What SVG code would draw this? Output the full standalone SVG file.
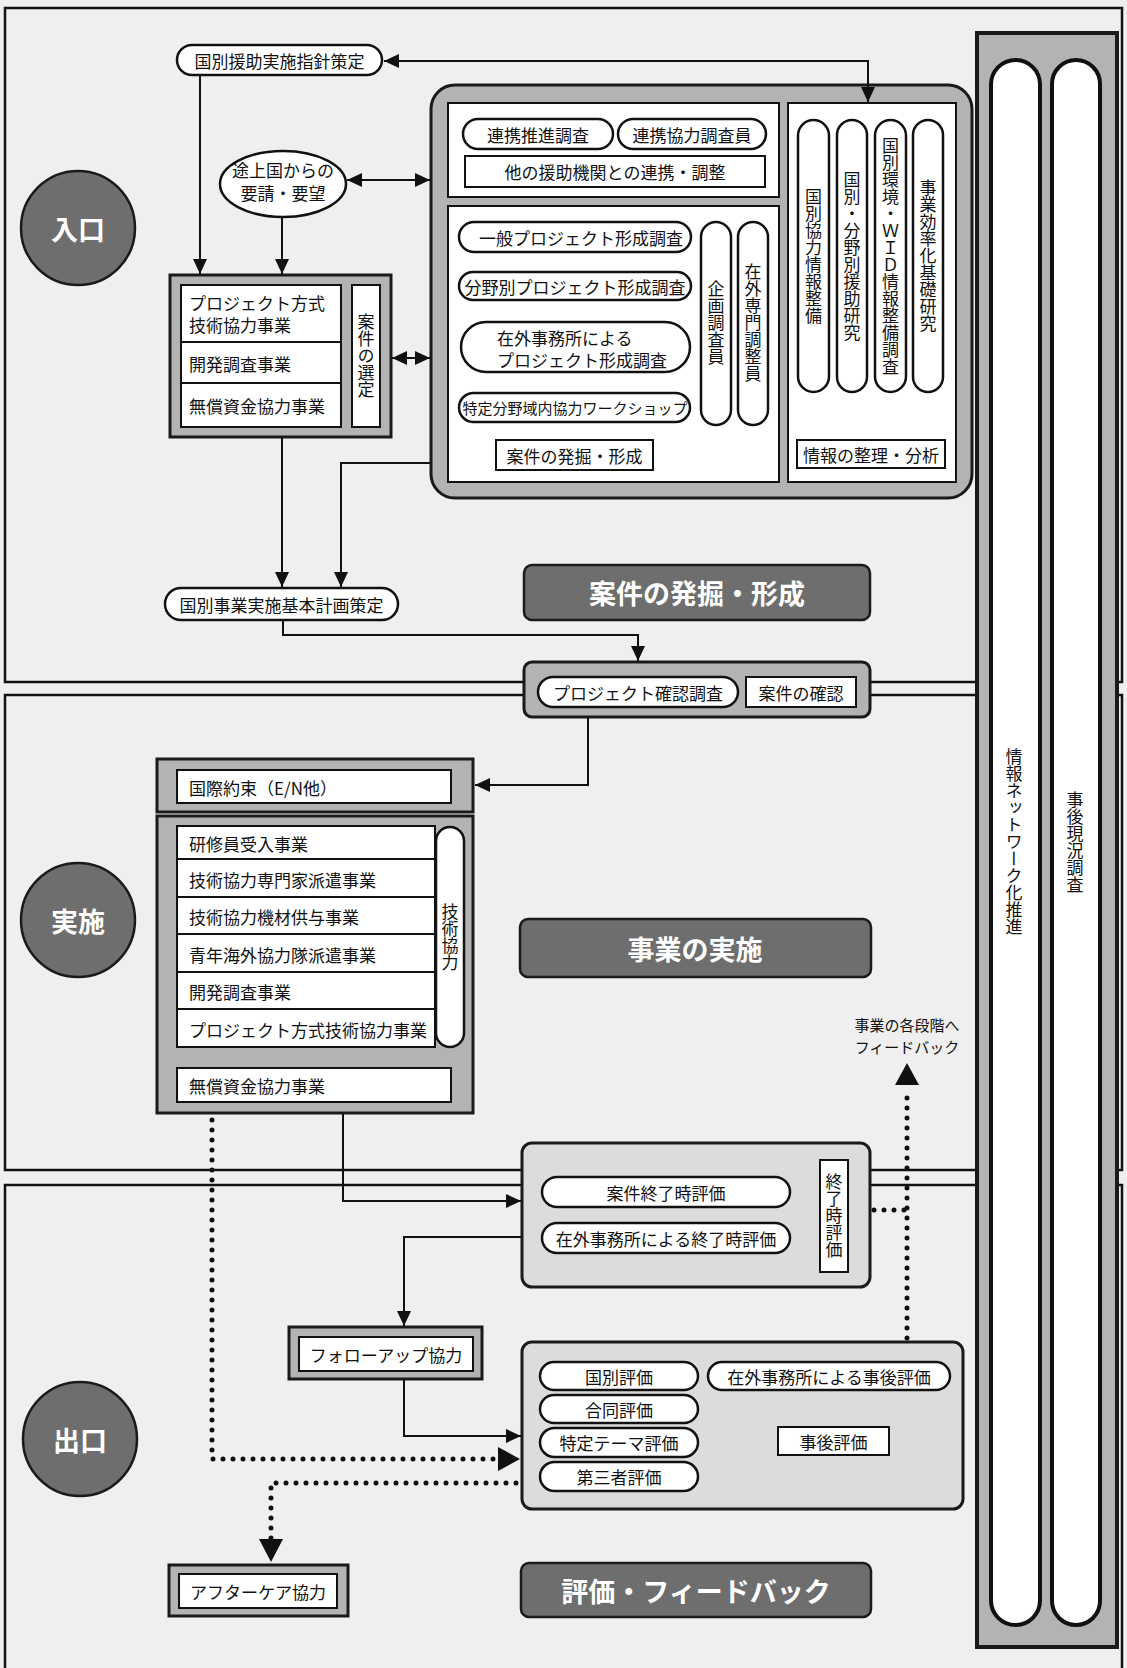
<svg xmlns="http://www.w3.org/2000/svg" width="1127" height="1668" viewBox="0 0 1127 1668">
<defs>
<style>
.t{font-family:"Noto Sans CJK JP","Noto Sans CJK SC",sans-serif;font-size:17px;fill:#111}
.c{text-anchor:middle;dominant-baseline:central}
.l{dominant-baseline:central}
.v{writing-mode:vertical-rl;text-orientation:upright;text-anchor:middle}
.w{fill:#fff;font-weight:700}
.pill{fill:#fff;stroke:#111;stroke-width:2.5}
.box{fill:#fff;stroke:#111;stroke-width:2}
.frame{fill:#b3b3b3;stroke:#1a1a1a;stroke-width:3}
.light{fill:#dcdcdc;stroke:#1a1a1a;stroke-width:3}
.dark{fill:#6e6e6e;stroke:#1a1a1a;stroke-width:2.5}
.sec{fill:none;stroke:#111;stroke-width:2.5}
.ln{fill:none;stroke:#111;stroke-width:2}
.dot{fill:none;stroke:#111;stroke-width:5;stroke-linecap:round;stroke-dasharray:0 10}
</style>
<marker id="ah" markerUnits="userSpaceOnUse" markerWidth="15" markerHeight="14" refX="15" refY="7" orient="auto-start-reverse"><path d="M0,0 L15,7 L0,14 z" fill="#111"/></marker>
</defs>
<rect x="0" y="0" width="1127" height="1668" fill="#efefef"/>
<g id="sections">
<rect class="sec" x="5" y="8" width="1117" height="674"/>
<rect class="sec" x="5" y="695" width="1117" height="475"/>
<rect class="sec" x="5" y="1185" width="1117" height="520"/>
</g>
<g id="circle-iriguchi">
<circle cx="78" cy="228" r="57" class="dark"/>
<text class="t c w" x="78" y="228" style="font-size:27px">入口</text>
</g>
<g id="circle-jisshi">
<circle cx="78" cy="920" r="57" class="dark"/>
<text class="t c w" x="78" y="920" style="font-size:27px">実施</text>
</g>
<g id="circle-deguchi">
<circle cx="80" cy="1439" r="57" class="dark"/>
<text class="t c w" x="80" y="1439" style="font-size:27px">出口</text>
</g>
<g id="n-shishin">
<rect class="pill" x="177" y="45" width="205" height="30" rx="15"/>
<text class="t c" x="279.5" y="60">国別援助実施指針策定</text>
</g>
<g id="n-yousei">
<ellipse class="pill" cx="283" cy="184" rx="63" ry="33"/>
<text class="t c" x="283" y="169">途上国からの</text>
<text class="t c" x="283" y="192">要請・要望</text>
</g>
<g id="n-sentei">
<rect class="frame" x="170" y="275" width="221" height="162"/>
<rect class="box" x="181" y="285" width="160" height="57"/>
<rect class="box" x="181" y="342" width="160" height="41"/>
<rect class="box" x="181" y="383" width="160" height="44"/>
<rect class="box" x="352" y="285" width="28" height="142"/>
<text class="t l" x="189" y="302">プロジェクト方式</text>
<text class="t l" x="189" y="324">技術協力事業</text>
<text class="t l" x="189" y="363">開発調査事業</text>
<text class="t l" x="189" y="405">無償資金協力事業</text>
<text class="t v" x="366" y="356">案件の選定</text>
</g>
<g id="n-hakkutsu">
<rect class="frame" x="431" y="85" width="541" height="413" rx="24"/>
<rect class="box" x="448" y="103" width="331" height="94"/>
<rect class="box" x="448" y="206" width="331" height="276"/>
<rect class="box" x="788" y="103" width="168" height="379"/>
<rect class="pill" x="463" y="119" width="150" height="30" rx="15"/>
<text class="t c" x="538" y="134">連携推進調査</text>
<rect class="pill" x="618" y="119" width="148" height="30" rx="15"/>
<text class="t c" x="692" y="134">連携協力調査員</text>
<rect class="box" x="465" y="156" width="300" height="31"/>
<text class="t c" x="615" y="171.5">他の援助機関との連携・調整</text>
<rect class="pill" x="459" y="222" width="232" height="30" rx="15"/>
<text class="t c" x="581" y="237">一般プロジェクト形成調査</text>
<rect class="pill" x="459" y="272" width="232" height="28" rx="14"/>
<text class="t c" x="575" y="286">分野別プロジェクト形成調査</text>
<rect class="pill" x="461" y="322" width="229" height="50" rx="25"/>
<text class="t l" x="497" y="337">在外事務所による</text>
<text class="t l" x="497" y="359">プロジェクト形成調査</text>
<rect class="pill" x="459" y="393" width="231" height="29" rx="14.5"/>
<text class="t c" x="575" y="407.5" style="font-size:15px">特定分野域内協力ワークショップ</text>
<rect class="box" x="496" y="440" width="157" height="30"/>
<text class="t c" x="574.5" y="455">案件の発掘・形成</text>
<rect class="pill" x="701" y="222" width="30" height="203" rx="15"/>
<text class="t v" x="716" y="323">企画調査員</text>
<rect class="pill" x="738" y="222" width="30" height="203" rx="15"/>
<text class="t v" x="753" y="323">在外専門調整員</text>
<rect class="pill" x="798" y="120" width="31" height="272" rx="15.5"/>
<text class="t v" x="813.5" y="256">国別協力情報整備</text>
<rect class="pill" x="837" y="120" width="30" height="272" rx="15"/>
<text class="t v" x="852" y="256">国別・分野別援助研究</text>
<rect class="pill" x="875" y="120" width="31" height="272" rx="15.5"/>
<text class="t v" x="890.5" y="256">国別環境・ＷＩＤ情報整備調査</text>
<rect class="pill" x="913" y="120" width="30" height="272" rx="15"/>
<text class="t v" x="928" y="256">事業効率化基礎研究</text>
<rect class="box" x="797" y="440" width="148" height="28"/>
<text class="t c" x="871" y="454">情報の整理・分析</text>
</g>
<g id="n-keikaku">
<rect class="pill" x="165" y="588" width="233" height="32" rx="16"/>
<text class="t c" x="281.5" y="604">国別事業実施基本計画策定</text>
</g>
<g id="banner-hakkutsu">
<rect class="dark" x="524" y="565" width="346" height="55" rx="8"/>
<text class="t c w" x="697" y="592.5" style="font-size:27px">案件の発掘・形成</text>
</g>
<g id="n-kakunin">
<rect class="frame" x="524" y="662" width="346" height="55" rx="8"/>
<rect class="pill" x="538" y="677" width="200" height="30" rx="15"/>
<text class="t c" x="638" y="692">プロジェクト確認調査</text>
<rect class="box" x="746" y="677" width="110" height="30"/>
<text class="t c" x="801" y="692">案件の確認</text>
</g>
<g id="n-yakusoku">
<rect class="frame" x="157" y="759" width="316" height="53"/>
<rect class="box" x="177" y="770" width="274" height="33"/>
<text class="t l" x="189" y="787">国際約束（E/N他）</text>
</g>
<g id="n-jisshi">
<rect class="frame" x="157" y="816" width="316" height="297"/>
<rect class="box" x="177" y="826" width="258" height="33"/>
<rect class="box" x="177" y="859" width="258" height="38"/>
<rect class="box" x="177" y="897" width="258" height="37"/>
<rect class="box" x="177" y="934" width="258" height="38"/>
<rect class="box" x="177" y="972" width="258" height="37"/>
<rect class="box" x="177" y="1009" width="258" height="38"/>
<rect class="pill" x="436" y="827" width="28" height="220" rx="14"/>
<text class="t l" x="189" y="843">研修員受入事業</text>
<text class="t l" x="189" y="879">技術協力専門家派遣事業</text>
<text class="t l" x="189" y="916">技術協力機材供与事業</text>
<text class="t l" x="189" y="954">青年海外協力隊派遣事業</text>
<text class="t l" x="189" y="991">開発調査事業</text>
<text class="t l" x="189" y="1029">プロジェクト方式技術協力事業</text>
<text class="t v" x="450" y="937">技術協力</text>
<rect class="box" x="177" y="1068" width="274" height="34"/>
<text class="t l" x="189" y="1085">無償資金協力事業</text>
</g>
<g id="banner-jisshi">
<rect class="dark" x="520" y="919" width="351" height="58" rx="8"/>
<text class="t c w" x="695" y="948" style="font-size:27px">事業の実施</text>
</g>
<g id="label-feedback">
<text class="t c" x="907" y="1024" style="font-size:15px">事業の各段階へ</text>
<text class="t c" x="907" y="1046" style="font-size:15px">フィードバック</text>
</g>
<g id="n-shuryo">
<rect class="light" x="522" y="1143" width="348" height="144" rx="10"/>
<rect class="pill" x="542" y="1177" width="248" height="30" rx="15"/>
<text class="t c" x="666" y="1192">案件終了時評価</text>
<rect class="pill" x="542" y="1223" width="248" height="30" rx="15"/>
<text class="t c" x="666" y="1238">在外事務所による終了時評価</text>
<rect class="box" x="820" y="1160" width="28" height="112"/>
<text class="t v" x="834" y="1216">終了時評価</text>
</g>
<g id="n-followup">
<rect class="frame" x="289" y="1327" width="193" height="52"/>
<rect class="box" x="299" y="1337" width="174" height="34"/>
<text class="t c" x="386" y="1354">フォローアップ協力</text>
</g>
<g id="n-jigo">
<rect class="light" x="522" y="1342" width="441" height="167" rx="10"/>
<rect class="pill" x="540" y="1362" width="158" height="28" rx="14"/>
<text class="t c" x="619" y="1376">国別評価</text>
<rect class="pill" x="540" y="1395" width="158" height="28" rx="14"/>
<text class="t c" x="619" y="1409">合同評価</text>
<rect class="pill" x="540" y="1428" width="158" height="29" rx="14.5"/>
<text class="t c" x="619" y="1442.5">特定テーマ評価</text>
<rect class="pill" x="540" y="1462" width="158" height="29" rx="14.5"/>
<text class="t c" x="619" y="1476.5">第三者評価</text>
<rect class="pill" x="708" y="1362" width="242" height="28" rx="14"/>
<text class="t c" x="829" y="1376">在外事務所による事後評価</text>
<rect class="box" x="778" y="1427" width="111" height="28"/>
<text class="t c" x="833.5" y="1441">事後評価</text>
</g>
<g id="n-aftercare">
<rect class="frame" x="169" y="1565" width="179" height="51"/>
<rect class="box" x="179" y="1574" width="158" height="34"/>
<text class="t c" x="258" y="1591">アフターケア協力</text>
</g>
<g id="banner-hyoka">
<rect class="dark" x="521" y="1563" width="350" height="54" rx="8"/>
<text class="t c w" x="696" y="1590" style="font-size:27px">評価・フィードバック</text>
</g>
<g id="n-column">
<rect class="frame" x="977" y="33" width="140" height="1614" style="stroke-width:4"/>
<rect class="pill" x="991" y="60" width="49" height="1565" rx="24.5" style="stroke-width:4"/>
<rect class="pill" x="1052" y="60" width="48" height="1565" rx="24" style="stroke-width:4"/>
<text class="t v" x="1014" y="842">情報ネットワーク化推進</text>
<text class="t v" x="1075" y="842">事後現況調査</text>
</g>
<g id="connectors">
<path class="ln" d="M384,61 H868 V102" marker-start="url(#ah)" marker-end="url(#ah)"/>
<path class="ln" d="M200,75 V274" marker-end="url(#ah)"/>
<path class="ln" d="M282,217 V274" marker-end="url(#ah)"/>
<path class="ln" d="M347,180 H430" marker-start="url(#ah)" marker-end="url(#ah)"/>
<path class="ln" d="M392,358 H430" marker-start="url(#ah)" marker-end="url(#ah)"/>
<path class="ln" d="M282,438 V587" marker-end="url(#ah)"/>
<path class="ln" d="M430,463 H341 V587" marker-end="url(#ah)"/>
<path class="ln" d="M283,621 V635 H638 V661" marker-end="url(#ah)"/>
<path class="ln" d="M588,718 V785 H475" marker-end="url(#ah)"/>
<path class="ln" d="M343,1114 V1201 H521" marker-end="url(#ah)"/>
<path class="ln" d="M521,1237 H404 V1326" marker-end="url(#ah)"/>
<path class="ln" d="M404,1380 V1436 H521" marker-end="url(#ah)"/>
<path class="dot" d="M212,1120 V1459 H500"/>
<path d="M498,1447 L520,1459 L498,1471 z" fill="#111"/>
<path class="dot" d="M516,1483 H271 V1540"/>
<path d="M259,1539 L271,1562 L283,1539 z" fill="#111"/>
<path class="dot" d="M907,1338 V1090"/>
<path d="M895,1085 L907,1063 L919,1085 z" fill="#111"/>
<path class="dot" d="M874,1210 H907"/>
</g>
</svg>
